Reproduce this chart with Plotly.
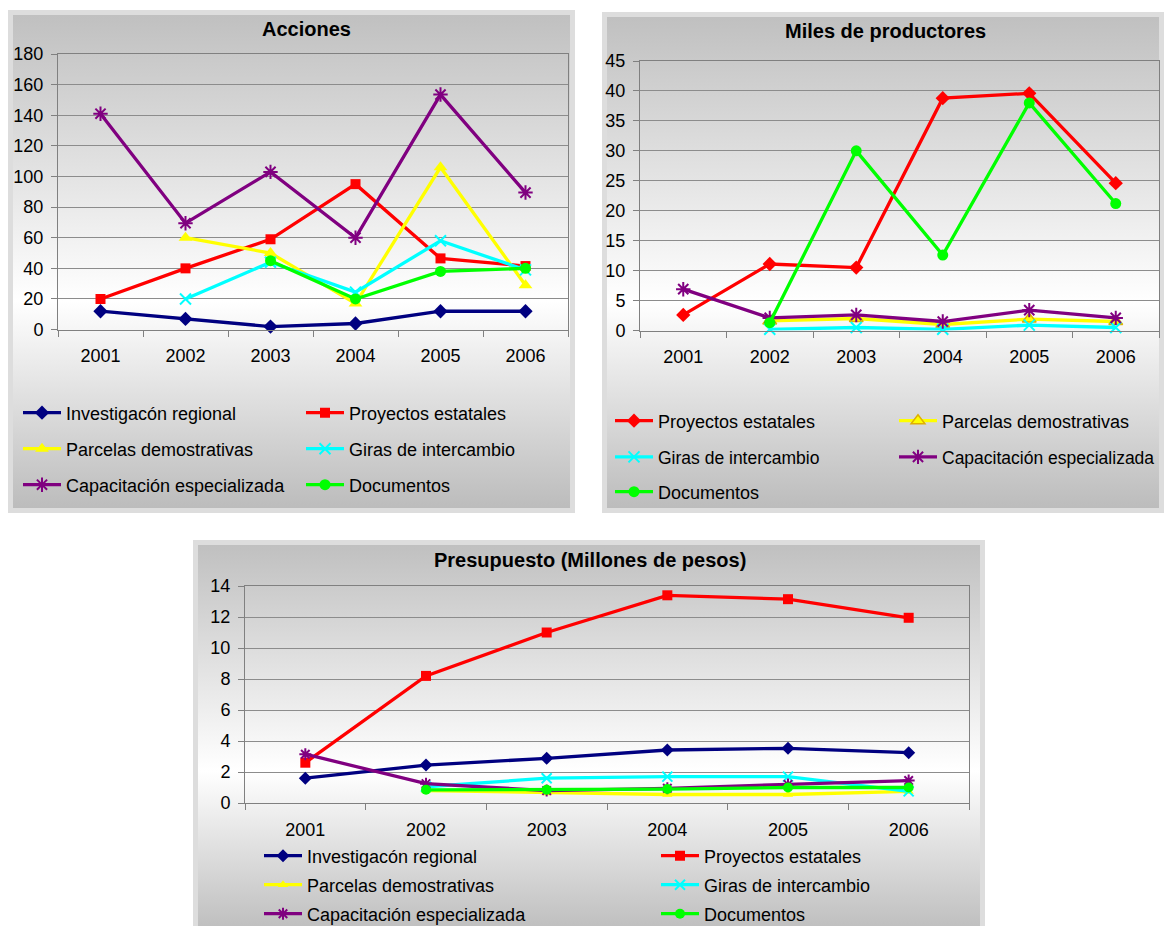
import base64
import plotly.graph_objects as go

W, H = 1164, 926
FONT = "Liberation Sans, Arial, sans-serif"

years = ["2001", "2002", "2003", "2004", "2005", "2006"]

# Acciones
acc_investigacion = [12, 7, 2, 4, 12, 12]
acc_proyectos = [20, 40, 59, 95, 46.5, 41.5]
acc_parcelas = [None, 60, 50, 17, 106, 29]
acc_giras = [None, 20, 44, 24.5, 58, 39]
acc_capacitacion = [141, 69.5, 103, 60, 153.5, 89.5]
acc_documentos = [None, None, 45, 20, 38, 40]

# Miles de productores
prod_proyectos = [2.6, 11.1, 10.5, 38.8, 39.6, 24.6]
prod_parcelas = [None, 1.6, 2.0, 1.0, 1.9, 1.5]
prod_giras = [None, 0.2, 0.5, 0.2, 0.9, 0.5]
prod_capacitacion = [6.9, 2.1, 2.6, 1.5, 3.4, 2.1]
prod_documentos = [None, 1.3, 30, 12.6, 38, 21.2]

# Presupuesto (Millones de pesos)
pres_investigacion = [1.6, 2.45, 2.88, 3.42, 3.53, 3.25]
pres_proyectos = [2.6, 8.2, 11.0, 13.4, 13.15, 11.95]
pres_parcelas = [None, 0.8, 0.65, 0.55, 0.55, 0.75]
pres_giras = [None, 1.05, 1.6, 1.7, 1.7, 0.75]
pres_capacitacion = [3.15, 1.25, 0.8, 0.95, 1.2, 1.45]
pres_documentos = [None, 0.85, 0.85, 0.9, 1.0, 1.0]

N_INV = "Investigacón regional"
N_PRO = "Proyectos estatales"
N_PAR = "Parcelas demostrativas"
N_GIR = "Giras de intercambio"
N_CAP = "Capacitación especializada"
N_DOC = "Documentos"

STYLE = {
    N_INV: dict(color="#000080", symbol="diamond", size=11, lw=0, lc="#000080"),
    N_PRO: dict(color="#ff0000", symbol="square", size=10, lw=0, lc="#ff0000"),
    N_PAR: dict(color="#ffff00", symbol="triangle-up", size=12, lw=0, lc="#ffff00"),
    N_GIR: dict(color="#00ffff", symbol="x-thin-open", size=11, lw=2, lc="#00ffff"),
    N_CAP: dict(color="#800080", symbol="asterisk-open", size=12, lw=2, lc="#800080"),
    N_DOC: dict(color="#00ff00", symbol="circle", size=11, lw=0, lc="#00ff00"),
}

fig = go.Figure()


def add(name, values, ax, legend, **override):
    st = dict(STYLE[name])
    st.update(override)
    fig.add_trace(go.Scatter(
        x=years, y=values, name=name, mode="lines+markers",
        xaxis="x" + ax, yaxis="y" + ax, legend=legend,
        line=dict(color=st["color"], width=3.3),
        marker=dict(symbol=st["symbol"], size=st["size"], color=st["color"],
                    line=dict(width=st["lw"], color=st["lc"])),
        cliponaxis=False, hoverinfo="x+y+name",
    ))


# Panel 1: Acciones
add(N_INV, acc_investigacion, "", "legend")
add(N_PRO, acc_proyectos, "", "legend")
add(N_PAR, acc_parcelas, "", "legend2")
add(N_GIR, acc_giras, "", "legend2")
add(N_CAP, acc_capacitacion, "", "legend3")
add(N_DOC, acc_documentos, "", "legend3")

# Panel 2: Miles de productores
add(N_PRO, prod_proyectos, "2", "legend4", symbol="diamond", size=11)
add(N_PAR, prod_parcelas, "2", "legend4", lw=1.5, lc="#e0b000")
add(N_GIR, prod_giras, "2", "legend5")
add(N_CAP, prod_capacitacion, "2", "legend5")
add(N_DOC, prod_documentos, "2", "legend6")

# Panel 3: Presupuesto
add(N_INV, pres_investigacion, "3", "legend7", size=10)
add(N_PRO, pres_proyectos, "3", "legend7", size=10)
add(N_PAR, pres_parcelas, "3", "legend8", size=9)
add(N_GIR, pres_giras, "3", "legend8", size=10)
add(N_CAP, pres_capacitacion, "3", "legend9", size=10)
add(N_DOC, pres_documentos, "3", "legend9", size=10)

TICKFONT = dict(family=FONT, size=18, color="black")


def xaxis(x0, x1, anchor):
    return dict(domain=[x0 / W, x1 / W], anchor=anchor, type="category",
                categoryorder="array", categoryarray=years, range=[-0.5, 5.5],
                tickson="boundaries", ticks="outside", ticklen=6, tickcolor="#808080",
                showline=True, linecolor="#808080", linewidth=1, mirror=True,
                showgrid=False, tickfont=TICKFONT, ticklabelstandoff=10, fixedrange=True)


def yaxis(y_top, y_zero, top, dtick, anchor):
    return dict(domain=[1 - y_zero / H, 1 - y_top / H], anchor=anchor,
                range=[0, top], dtick=dtick, tick0=0,
                showgrid=True, gridcolor="#8c8c8c", gridwidth=1,
                showline=True, linecolor="#808080", linewidth=1, mirror=True,
                ticks="outside", ticklen=6, tickcolor="#808080",
                zeroline=False, tickfont=TICKFONT, ticklabelstandoff=4, fixedrange=True)


def panel_background(w, h, b):
    svg = (
        f'<svg xmlns="http://www.w3.org/2000/svg" width="{w}" height="{h}" '
        f'viewBox="0 0 {w} {h}" preserveAspectRatio="none">'
        '<defs><linearGradient id="g" x1="0" y1="0" x2="0" y2="1">'
        '<stop offset="0" stop-color="#c0c0c0"/>'
        '<stop offset="0.58" stop-color="#ffffff"/>'
        '<stop offset="1" stop-color="#bcbcbc"/>'
        '</linearGradient></defs>'
        f'<rect width="{w}" height="{h}" fill="#dddddd"/>'
        f'<rect x="{b}" y="{b}" width="{w - 2 * b}" height="{h - 2 * b}" fill="url(#g)"/>'
        '</svg>'
    )
    return "data:image/svg+xml;base64," + base64.b64encode(svg.encode()).decode()


def panel_image(x0, y0, x1, y1, b=5):
    return dict(source=panel_background(x1 - x0, y1 - y0, b), xref="paper", yref="paper",
                x=x0 / W, y=1 - y0 / H, sizex=(x1 - x0) / W, sizey=(y1 - y0) / H,
                xanchor="left", yanchor="top", sizing="stretch", layer="below")


def legend_row(x_px, y_px, entry_w, size=18):
    return dict(orientation="h", x=x_px / W, y=1 - y_px / H, xanchor="left", yanchor="middle",
                bgcolor="rgba(0,0,0,0)", borderwidth=0,
                font=dict(family=FONT, size=size, color="black"),
                entrywidth=entry_w, entrywidthmode="pixels", itemwidth=38,
                traceorder="normal", itemclick=False, itemdoubleclick=False)


def title(text, x_px, y_px):
    return dict(text=f"<b>{text}</b>", x=x_px / W, y=1 - y_px / H, xref="paper", yref="paper",
                xanchor="center", yanchor="middle", showarrow=False,
                font=dict(family=FONT, size=20, color="black"))


fig.update_layout(
    width=W, height=H, margin=dict(l=0, r=0, t=0, b=0, autoexpand=False),
    paper_bgcolor="white", plot_bgcolor="rgba(0,0,0,0)",
    xaxis=xaxis(58, 568, "y"), yaxis=yaxis(54, 329.6, 180, 20, "x"),
    xaxis2=xaxis(640, 1159, "y2"), yaxis2=yaxis(61, 330.5, 45, 5, "x2"),
    xaxis3=xaxis(245, 969, "y3"), yaxis3=yaxis(586, 803, 14, 2, "x3"),
    images=[panel_image(8, 10, 575, 513, 5),
            panel_image(602, 12, 1164, 513, 5),
            panel_image(193, 540, 985, 940, 5)],
    annotations=[title("Acciones", 306, 29),
                 title("Miles de productores", 885, 31),
                 title("Presupuesto (Millones de pesos)", 590, 560)],
    legend=legend_row(15 + 3, 413, 230),
    legend2=legend_row(15 + 3, 449, 230),
    legend3=legend_row(15 + 3, 485, 230),
    legend4=legend_row(607 + 3, 421, 231),
    legend5=legend_row(607 + 3, 457, 231, size=17.5),
    legend6=legend_row(607 + 3, 492, 231),
    legend7=legend_row(256 + 3, 856, 344),
    legend8=legend_row(256 + 3, 885, 344),
    legend9=legend_row(256 + 3, 914, 344),
    showlegend=True,
)

fig.write_html("out.html")
